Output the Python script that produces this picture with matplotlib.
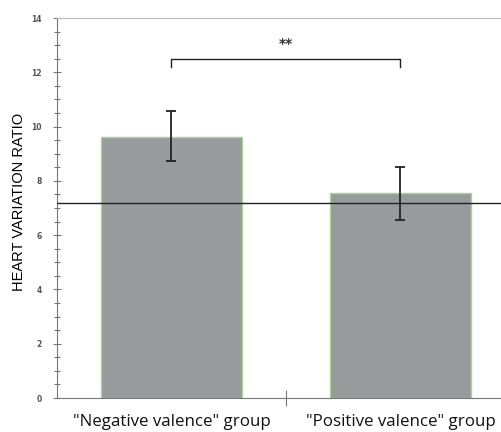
import numpy as np
import matplotlib.pyplot as plt
from matplotlib.ticker import MultipleLocator

# values
groups = ['"Negative valence" group', '"Positive valence" group']
means = [9.63, 7.54]
err_low = [8.73, 6.56]
err_high = [10.57, 8.52]
baseline = 7.2
sig_label = "**"

fig = plt.figure(figsize=(5.01, 4.32), dpi=100)
# the plot area runs past the right edge of the picture, as in the reference
ax = fig.add_axes([57 / 501, 34 / 432, 458 / 501, 380 / 432])

x = np.arange(len(groups))
means_arr = np.array(means)
yerr = [means_arr - np.array(err_low), np.array(err_high) - means_arr]

ax.bar(x, means, width=0.62, color="#989b9b", edgecolor="#a6d895",
       linewidth=1.0, zorder=2)
ax.errorbar(x, means, yerr=yerr, fmt="none", ecolor="#222222",
            elinewidth=1.3, capsize=3.5, capthick=1.3, zorder=4)
ax.axhline(baseline, color="#222222", lw=1.0, zorder=3)

# significance bracket
y_top, y_bot = 12.5, 12.2
ax.plot([x[0], x[0], x[1], x[1]], [y_bot, y_top, y_top, y_bot],
        color="#222222", lw=1.0, clip_on=False)
ax.text((x[0] + x[1]) / 2, 13.05, sig_label, ha="center", va="center",
        fontsize=10, fontweight="bold", color="#333333")

ax.set_xlim(-0.5, 1.5)
ax.set_ylim(0, 14)
ax.yaxis.set_major_locator(MultipleLocator(2))
ax.yaxis.set_minor_locator(MultipleLocator(0.5))
ax.tick_params(axis="y", which="major", direction="inout", length=6,
               width=0.8, color="#777777", labelsize=5.5, labelcolor="#555555",
               pad=8)
ax.tick_params(axis="y", which="minor", direction="inout", length=4,
               width=0.8, color="#777777")
for lbl in ax.get_yticklabels():
    lbl.set_fontweight("bold")

# x: labels centered under bars, divider tick between them
ax.set_xticks([0.5])
ax.set_xticklabels([""])
ax.tick_params(axis="x", which="major", direction="inout", length=12,
               width=0.8, color="#777777")
for xi, g in zip(x, groups):
    ax.text(xi, -0.58, g, ha="center", va="top", fontsize=12.2,
            family=["Open Sans", "DejaVu Sans"], color="#111111",
            transform=ax.transData, clip_on=False)

ax.set_ylabel("HEART VARIATION RATIO", fontsize=10.5,
              family=["Liberation Sans", "DejaVu Sans"], va="center")
ax.yaxis.set_label_coords(-38 / 458, 0.5 + 6 / 380)

ax.spines["right"].set_visible(False)
ax.spines["top"].set_color("#bbbbbb")
ax.spines["left"].set_color("#777777")
ax.spines["bottom"].set_color("#777777")

fig.savefig("out.png", dpi=100)
